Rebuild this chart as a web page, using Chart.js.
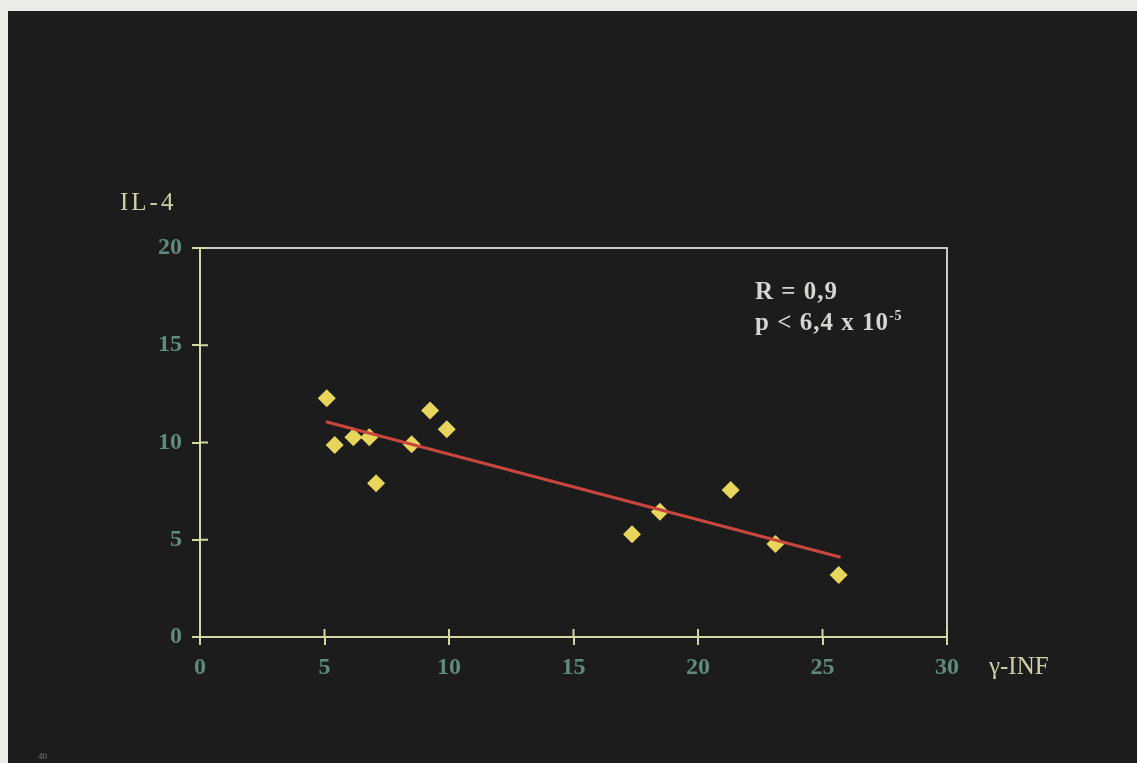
<!DOCTYPE html>
<html lang="en">
  <head>
    <meta charset="UTF-8" />
    <title>IL-4 vs γ-INF</title>
    <script src="https://cdn.jsdelivr.net/npm/chart.js@4.4.0/dist/chart.umd.min.js"></script>
    <style>
      body {
        margin: 0;
        width: 1137px;
        height: 763px;
        background: #ecece6;
        overflow: hidden;
        font-family: "Liberation Serif", "DejaVu Serif", serif;
      }
      #slide {
        position: absolute;
        left: 8px;
        top: 11px;
        width: 1129px;
        height: 752px;
        background: #1c1c1c;
      }
      #slide canvas {
        position: absolute;
        left: 0;
        top: 0;
      }
      .lbl {
        position: absolute;
        color: #cfcfa8;
        font-size: 25px;
        white-space: nowrap;
      }
      .note {
        position: absolute;
        color: #d4d4d0;
        font-size: 25px;
        font-weight: bold;
        line-height: 31px;
        letter-spacing: 1px;
        white-space: nowrap;
      }
      .note sup {
        font-size: 14px;
        vertical-align: 10px;
        line-height: 0;
      }
      .page {
        position: absolute;
        color: #777;
        font-size: 9px;
      }
    </style>
  </head>
  <body>
    <div id="slide">
      <canvas id="chart" width="1129" height="752"></canvas>
      <div class="lbl" style="left: 112px; top: 177px; letter-spacing: 3px">IL-4</div>
      <div class="lbl" style="left: 981px; top: 641px">γ-INF</div>
      <div class="note" style="left: 747px; top: 264px">
        R = 0,9<br />p &lt; 6,4 x 10<sup>-5</sup>
      </div>
      <div class="page" style="left: 30px; top: 740px">40</div>
    </div>
    <script>
      // values
      const gammaInf = [5.09, 5.41, 6.16, 6.8, 7.07, 8.5, 9.24, 9.91, 17.35, 18.47, 21.31, 23.11, 25.65];
      const il4 = [12.27, 9.87, 10.27, 10.27, 7.9, 9.91, 11.64, 10.68, 5.28, 6.44, 7.56, 4.78, 3.19];
      const trendX = [5.06, 25.73];
      const trendY = [11.07, 4.1];

      const axisColor = "#d6d6a4";
      const boxColor = "#c9c9c2";
      const tickColor = "#5f8a80";

      // ticks that cross the axis: the library draws the outer half, this draws the inner half
      const innerTicks = {
        id: "innerTicks",
        afterDraw(chart) {
          const { ctx, chartArea: a, scales } = chart;
          ctx.save();
          ctx.lineWidth = 2;
          ctx.strokeStyle = boxColor;
          ctx.beginPath();
          ctx.moveTo(a.left, a.top);
          ctx.lineTo(a.right, a.top);
          ctx.lineTo(a.right, a.bottom);
          ctx.stroke();
          ctx.strokeStyle = axisColor;
          ctx.beginPath();
          scales.x.ticks.forEach(t => {
            const px = scales.x.getPixelForValue(t.value);
            ctx.moveTo(px, a.bottom);
            ctx.lineTo(px, a.bottom - 8);
          });
          scales.y.ticks.forEach(t => {
            const py = scales.y.getPixelForValue(t.value);
            ctx.moveTo(a.left, py);
            ctx.lineTo(a.left + 8, py);
          });
          ctx.stroke();
          ctx.restore();
        },
      };

      const tickFont = { family: "Liberation Serif", size: 24, weight: "bold" };

      new Chart(document.getElementById("chart"), {
        type: "scatter",
        data: {
          datasets: [
            {
              data: gammaInf.map((x, i) => ({ x, y: il4[i] })),
              pointStyle: "rectRot",
              pointRadius: 9,
              backgroundColor: "#e8d65c",
              borderColor: "#e8d65c",
              borderWidth: 0,
              order: 2,
            },
            {
              type: "line",
              data: trendX.map((x, i) => ({ x, y: trendY[i] })),
              borderColor: "#c8463e",
              borderWidth: 3,
              pointRadius: 0,
              fill: false,
              order: 1,
            },
          ],
        },
        options: {
          responsive: false,
          animation: false,
          layout: { padding: { left: 132, right: 190, top: 237, bottom: 82 } },
          plugins: { legend: { display: false }, tooltip: { enabled: false } },
          scales: {
            x: {
              type: "linear",
              min: 0,
              max: 30,
              afterFit: s => (s.height = 44),
              ticks: { stepSize: 5, color: tickColor, font: tickFont, padding: 8 },
              grid: { drawOnChartArea: false, tickLength: 8, color: axisColor, lineWidth: 2 },
              border: { color: axisColor, width: 2 },
            },
            y: {
              type: "linear",
              min: 0,
              max: 20,
              afterFit: s => (s.width = 60),
              ticks: { stepSize: 5, color: tickColor, font: tickFont, padding: 10 },
              grid: { drawOnChartArea: false, tickLength: 8, color: axisColor, lineWidth: 2 },
              border: { color: axisColor, width: 2 },
            },
          },
        },
        plugins: [innerTicks],
      });
    </script>
  </body>
</html>
